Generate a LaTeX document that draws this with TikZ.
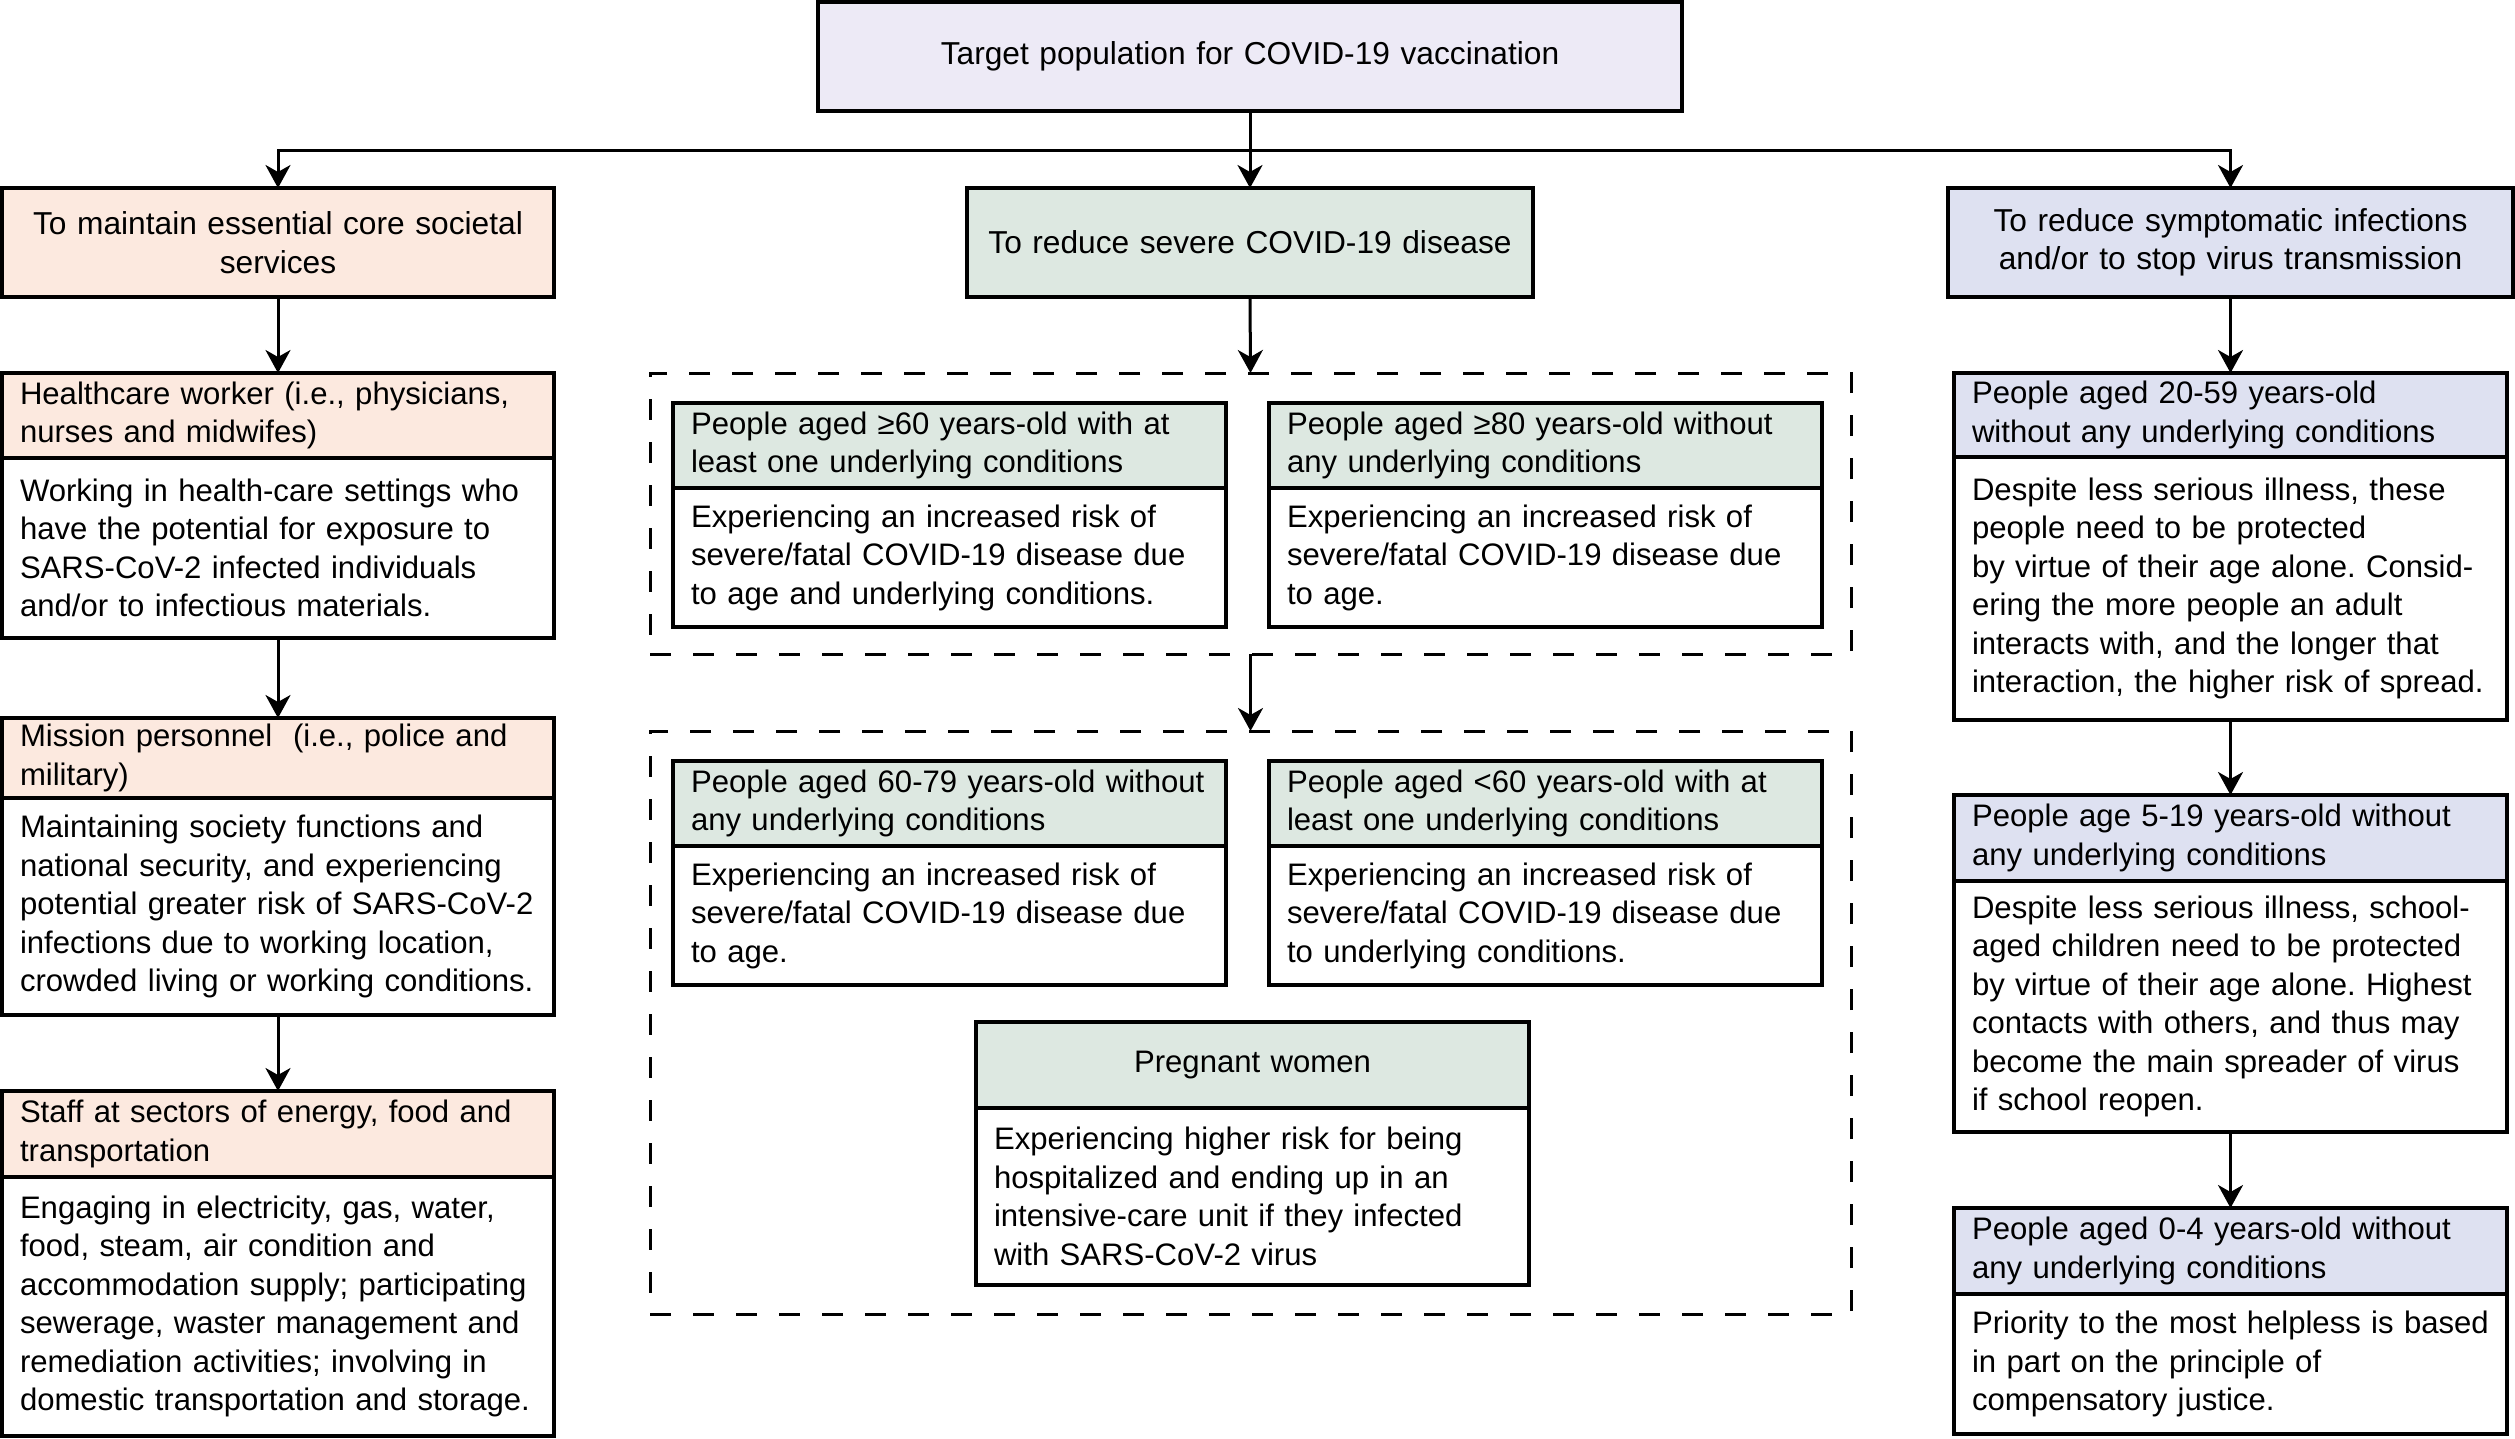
\documentclass[tikz,border=0pt]{standalone}
\usepackage{fontspec}
\setmainfont{Liberation Sans}
\usetikzlibrary{arrows.meta}
\definecolor{topc}{RGB}{237,234,246}
\definecolor{peach}{RGB}{252,233,223}
\definecolor{sage}{RGB}{221,232,225}
\definecolor{lav}{RGB}{222,225,241}
\frenchspacing
\begin{document}
\begin{tikzpicture}[x=1pt,y=-1pt,
  every node/.style={font=\fontsize{31.1}{38.5}\selectfont, outer sep=0pt},
  box/.style={draw=black, line width=3.2pt, rectangle, inner xsep=18pt, inner ysep=0pt, anchor=north west,
    execute at begin node={\frenchspacing\hyphenpenalty=10000\exhyphenpenalty=10000}},
  lbox/.style={box, align=left},
  cbox/.style={box, align=center},
  big/.style={font=\fontsize{31.7}{38.5}\selectfont},
  conn/.style={draw=black, line width=3pt},
  arr/.style={conn, -{Stealth[length=23pt,width=25pt,inset=7pt]}},
  dbox/.style={draw=black, line width=3pt, dash pattern=on 21pt off 22pt, rectangle, anchor=north west, inner sep=0pt},
  wl/.style={minimum width=552pt, text width=516pt},
  wc/.style={minimum width=553pt, text width=517pt},
]
\useasboundingbox (0,0) rectangle (2515,1438);

% top
\node[cbox, big, fill=topc, minimum width=864pt, text width=828pt, minimum height=109pt] (top) at (818,2) {Target population for COVID-19 vaccination};

% headers
\node[cbox, big, fill=peach, wl, minimum height=109pt] (lhead) at (2,188) {To maintain essential core societal\\services};
\node[cbox, big, fill=sage, minimum width=566pt, text width=530pt, minimum height=109pt] (chead) at (967,188) {To reduce severe COVID-19 disease};
\node[cbox, big, fill=lav, minimum width=565pt, text width=529pt, minimum height=109pt] (rhead) at (1948,188) {To reduce symptomatic infections\\and/or to stop virus transmission};

% left column
\node[lbox, fill=peach, wl, minimum height=85pt] (hct) at (2,373) {Healthcare worker (i.e., physicians,\\nurses and midwifes)};
\node[lbox, fill=white, wl, minimum height=180pt] (hcb) at (2,458) {Working in health-care settings who\\have the potential for exposure to\\SARS-CoV-2 infected individuals\\and/or to infectious materials.};
\node[lbox, fill=peach, wl, minimum height=80pt] (mpt) at (2,718) {Mission personnel\ \ (i.e., police and\\military)};
\node[lbox, fill=white, wl, minimum height=217pt] (mpb) at (2,798) {Maintaining society functions and\\national security, and experiencing\\potential greater risk of SARS-CoV-2\\infections due to working location,\\crowded living or working conditions.};
\node[lbox, fill=peach, wl, minimum height=86pt] (stt) at (2,1091) {Staff at sectors of energy, food and\\transportation};
\node[lbox, fill=white, wl, minimum height=259pt] (stb) at (2,1177) {Engaging in electricity, gas, water,\\food, steam, air condition and\\accommodation supply; participating\\sewerage, waster management and\\remediation activities; involving in\\domestic transportation and storage.};

% center column
\node[dbox, minimum width=1201pt, minimum height=281pt] (d1) at (650,373) {};
\node[dbox, minimum width=1201pt, minimum height=583pt] (d2) at (650,731) {};

\node[lbox, fill=sage, wc, minimum height=85pt] (at) at (673,403) {People aged ≥60 years-old with at\\least one underlying conditions};
\node[lbox, fill=white, wc, minimum height=139pt] (ab) at (673,488) {Experiencing an increased risk of\\severe/fatal COVID-19 disease due\\to age and underlying conditions.};
\node[lbox, fill=sage, wc, minimum height=85pt] (bt) at (1269,403) {People aged ≥80 years-old without\\any underlying conditions};
\node[lbox, fill=white, wc, minimum height=139pt] (bb) at (1269,488) {Experiencing an increased risk of\\severe/fatal COVID-19 disease due\\to age.};

\node[lbox, fill=sage, wc, minimum height=85pt] (ct) at (673,761) {People aged 60-79 years-old without\\any underlying conditions};
\node[lbox, fill=white, wc, minimum height=139pt] (cb) at (673,846) {Experiencing an increased risk of\\severe/fatal COVID-19 disease due\\to age.};
\node[lbox, fill=sage, wc, minimum height=85pt] (dt) at (1269,761) {People aged <60 years-old with at\\least one underlying conditions};
\node[lbox, fill=white, wc, minimum height=139pt] (db) at (1269,846) {Experiencing an increased risk of\\severe/fatal COVID-19 disease due\\to underlying conditions.};

\node[cbox, fill=sage, wc, minimum height=86pt] (pt) at (976,1022) {Pregnant women};
\node[lbox, fill=white, wc, minimum height=177pt] (pb) at (976,1108) {Experiencing higher risk for being\\hospitalized and ending up in an\\intensive-care unit if they infected\\with SARS-CoV-2 virus};

% right column
\node[lbox, fill=lav, wc, minimum height=84pt] (r1t) at (1954,373) {People aged 20-59 years-old\\without any underlying conditions};
\node[lbox, fill=white, wc, minimum height=263pt] (r1b) at (1954,457) {Despite less serious illness, these\\people need to be protected\\by virtue of their age alone. Consid-\\ering the more people an adult\\interacts with, and the longer that\\interaction, the higher risk of spread.};
\node[lbox, fill=lav, wc, minimum height=86pt] (r2t) at (1954,795) {People age 5-19 years-old without\\any underlying conditions};
\node[lbox, fill=white, wc, minimum height=251pt] (r2b) at (1954,881) {Despite less serious illness, school-\\aged children need to be protected\\by virtue of their age alone. Highest\\contacts with others, and thus may\\become the main spreader of virus\\if school reopen.};
\node[lbox, fill=lav, wc, minimum height=86pt] (r3t) at (1954,1208) {People aged 0-4 years-old without\\any underlying conditions};
\node[lbox, fill=white, wc, minimum height=140pt] (r3b) at (1954,1294) {Priority to the most helpless is based\\in part on the principle of\\compensatory justice.};

% connectors
\coordinate (br) at (1250,150);
\draw[arr] (top.south) -- (chead.north);
\draw[arr] (br) -| (lhead.north);
\draw[arr] (br) -| (rhead.north);
\draw[arr] (lhead.south) -- (hct.north);
\draw[arr] (hcb.south) -- (mpt.north);
\draw[arr] (mpb.south) -- (stt.north);
\draw[arr] (chead.south) -- (d1.north);
\draw[arr] (d1.south) -- (d2.north);
\draw[arr] (rhead.south) -- (r1t.north);
\draw[arr] (r1b.south) -- (r2t.north);
\draw[arr] (r2b.south) -- (r3t.north);
\end{tikzpicture}
\end{document}
